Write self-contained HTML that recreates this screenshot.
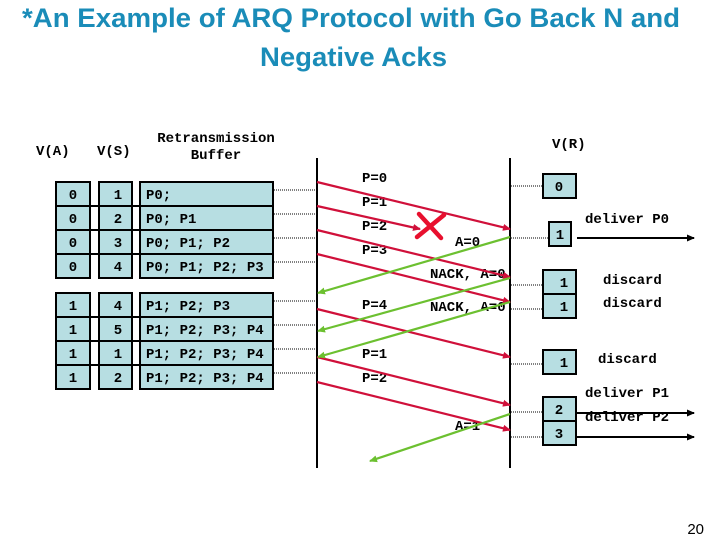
<!DOCTYPE html>
<html><head><style>
html,body{margin:0;padding:0;background:#fff;width:720px;height:540px;overflow:hidden}
svg{display:block}
.m{font-family:"Liberation Mono",monospace;font-weight:bold;font-size:14px;fill:#000}
</style></head><body>
<svg width="720" height="540" viewBox="0 0 720 540" xmlns="http://www.w3.org/2000/svg">
<defs>
<marker id="ar" markerWidth="8" markerHeight="8" refX="7" refY="4" orient="auto" markerUnits="userSpaceOnUse"><path d="M0,0.5 L8,4 L0,7.5 z" fill="#d0103a"/></marker>
<marker id="ag" markerWidth="8" markerHeight="8" refX="7" refY="4" orient="auto" markerUnits="userSpaceOnUse"><path d="M0,0.5 L8,4 L0,7.5 z" fill="#6cc030"/></marker>
<marker id="ak" markerWidth="8" markerHeight="8" refX="7" refY="4" orient="auto" markerUnits="userSpaceOnUse"><path d="M0,0.5 L8,4 L0,7.5 z" fill="#000"/></marker>
</defs>
<g font-family="Liberation Sans,sans-serif" font-weight="bold" fill="#1a8cb8" font-size="27">
<text x="22" y="27" textLength="658" lengthAdjust="spacingAndGlyphs">*An Example of ARQ Protocol with Go Back N and</text>
<text x="260" y="66" textLength="187" lengthAdjust="spacingAndGlyphs">Negative Acks</text>
</g>
<g class="m">
<text x="36" y="155">V(A)</text><text x="97" y="155">V(S)</text>
<text x="216" y="142" text-anchor="middle">Retransmission</text>
<text x="216" y="159" text-anchor="middle">Buffer</text>
<text x="552" y="148">V(R)</text>
</g>
<g fill="#b7dee2" stroke="#000" stroke-width="2">
<rect x="56" y="182" width="34" height="96"/><rect x="99" y="182" width="33" height="96"/><rect x="140" y="182" width="133" height="96"/>
<rect x="56" y="293" width="34" height="96"/><rect x="99" y="293" width="33" height="96"/><rect x="140" y="293" width="133" height="96"/>
<rect x="543" y="174" width="33" height="24"/>
<rect x="549" y="222" width="22" height="24"/>
<rect x="543" y="270" width="33" height="48"/>
<rect x="543" y="350" width="33" height="24"/>
<rect x="543" y="397" width="33" height="48"/>
</g>
<g stroke="#000" stroke-width="2">
<line x1="56" y1="206" x2="273" y2="206"/><line x1="56" y1="230" x2="273" y2="230"/><line x1="56" y1="254" x2="273" y2="254"/>
<line x1="56" y1="317" x2="273" y2="317"/><line x1="56" y1="341" x2="273" y2="341"/><line x1="56" y1="365" x2="273" y2="365"/>
<line x1="543" y1="294" x2="576" y2="294"/><line x1="543" y1="421" x2="576" y2="421"/>
<line x1="317" y1="158" x2="317" y2="468"/><line x1="510" y1="158" x2="510" y2="468"/>
</g>
<g stroke="#000" stroke-width="1" stroke-dasharray="1,1">
<line x1="274" y1="190" x2="316" y2="190"/><line x1="274" y1="214" x2="316" y2="214"/><line x1="274" y1="238" x2="316" y2="238"/><line x1="274" y1="262" x2="316" y2="262"/>
<line x1="274" y1="301" x2="316" y2="301"/><line x1="274" y1="325" x2="316" y2="325"/><line x1="274" y1="349" x2="316" y2="349"/><line x1="274" y1="373" x2="316" y2="373"/>
<line x1="511" y1="186" x2="542" y2="186"/><line x1="511" y1="238" x2="548" y2="238"/><line x1="511" y1="285" x2="542" y2="285"/><line x1="511" y1="309" x2="542" y2="309"/>
<line x1="511" y1="364" x2="542" y2="364"/><line x1="511" y1="412" x2="542" y2="412"/><line x1="511" y1="437" x2="542" y2="437"/>
</g>
<g class="m">
<text x="73" y="199" text-anchor="middle">0</text><text x="73" y="223" text-anchor="middle">0</text><text x="73" y="247" text-anchor="middle">0</text><text x="73" y="271" text-anchor="middle">0</text>
<text x="73" y="310" text-anchor="middle">1</text><text x="73" y="334" text-anchor="middle">1</text><text x="73" y="358" text-anchor="middle">1</text><text x="73" y="382" text-anchor="middle">1</text>
<text x="118" y="199" text-anchor="middle">1</text><text x="118" y="223" text-anchor="middle">2</text><text x="118" y="247" text-anchor="middle">3</text><text x="118" y="271" text-anchor="middle">4</text>
<text x="118" y="310" text-anchor="middle">4</text><text x="118" y="334" text-anchor="middle">5</text><text x="118" y="358" text-anchor="middle">1</text><text x="118" y="382" text-anchor="middle">2</text>
<text x="146" y="199">P0;</text><text x="146" y="223">P0; P1</text><text x="146" y="247">P0; P1; P2</text><text x="146" y="271">P0; P1; P2; P3</text>
<text x="146" y="310">P1; P2; P3</text><text x="146" y="334">P1; P2; P3; P4</text><text x="146" y="358">P1; P2; P3; P4</text><text x="146" y="382">P1; P2; P3; P4</text>
<text x="559" y="191" text-anchor="middle">0</text><text x="560" y="239" text-anchor="middle">1</text>
<text x="564" y="287" text-anchor="middle">1</text><text x="564" y="311" text-anchor="middle">1</text><text x="564" y="367" text-anchor="middle">1</text>
<text x="559" y="414" text-anchor="middle">2</text><text x="559" y="438" text-anchor="middle">3</text>
<text x="585" y="223">deliver P0</text>
<text x="603" y="284">discard</text><text x="603" y="307">discard</text><text x="598" y="363">discard</text>
<text x="585" y="397">deliver P1</text><text x="585" y="421">deliver P2</text>
<text x="362" y="182">P=0</text><text x="362" y="206">P=1</text><text x="362" y="230">P=2</text><text x="362" y="254">P=3</text>
<text x="362" y="309">P=4</text><text x="362" y="358">P=1</text><text x="362" y="382">P=2</text>
<text x="455" y="246">A=0</text><text x="430" y="278">NACK, A=0</text><text x="430" y="311">NACK, A=0</text><text x="455" y="430">A=1</text>
</g>
<g stroke="#000" stroke-width="2">
<line x1="577" y1="238" x2="694" y2="238" marker-end="url(#ak)"/>
<line x1="577" y1="413" x2="694" y2="413" marker-end="url(#ak)"/>
<line x1="577" y1="437" x2="694" y2="437" marker-end="url(#ak)"/>
</g>
<g stroke="#d0103a" stroke-width="2.2" fill="none">
<line x1="317" y1="182" x2="510" y2="229" marker-end="url(#ar)"/>
<line x1="317" y1="206" x2="420" y2="229" marker-end="url(#ar)"/>
<line x1="317" y1="230" x2="510" y2="277" marker-end="url(#ar)"/>
<line x1="317" y1="254" x2="510" y2="302" marker-end="url(#ar)"/>
<line x1="317" y1="309" x2="510" y2="357" marker-end="url(#ar)"/>
<line x1="317" y1="357" x2="510" y2="405" marker-end="url(#ar)"/>
<line x1="317" y1="382" x2="510" y2="430" marker-end="url(#ar)"/>
</g>
<g stroke="#e8102e" stroke-width="4.5" stroke-linecap="round">
<line x1="419" y1="214" x2="441" y2="238"/><line x1="444" y1="215" x2="417" y2="237"/>
</g>
<g stroke="#6cc030" stroke-width="2.2">
<line x1="510" y1="237" x2="318" y2="293" marker-end="url(#ag)"/>
<line x1="510" y1="278" x2="318" y2="331" marker-end="url(#ag)"/>
<line x1="510" y1="302" x2="318" y2="357" marker-end="url(#ag)"/>
<line x1="510" y1="414" x2="370" y2="461" marker-end="url(#ag)"/>
</g>
<text x="704" y="534" text-anchor="end" font-family="Liberation Sans,sans-serif" font-size="15" fill="#000">20</text>
</svg>
</body></html>
